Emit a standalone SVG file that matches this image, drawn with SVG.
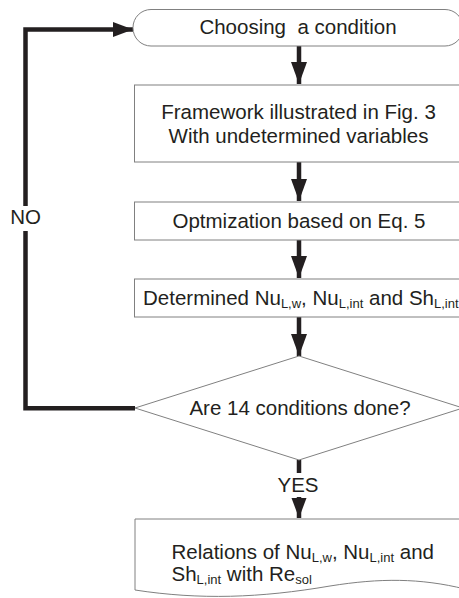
<svg xmlns="http://www.w3.org/2000/svg" width="459" height="598" viewBox="0 0 459 598">
<defs>
<style>
.box{fill:#fff;stroke:#808080;stroke-width:1}
.t{font-family:"Liberation Sans",Arial,sans-serif;font-size:20.5px;fill:#231f20}
.s{font-size:13px}
.c{fill:none;stroke:#231f20;stroke-width:4.5}
</style>
<marker id="ah" markerUnits="userSpaceOnUse" markerWidth="24" markerHeight="18" refX="22" refY="8" orient="auto">
<path d="M0,0 L22,8 L0,16 Z" fill="#231f20"/>
</marker>
<marker id="ah2" markerUnits="userSpaceOnUse" markerWidth="22" markerHeight="16" refX="20" refY="7.5" orient="auto">
<path d="M0,0 L20,7.5 L0,15 Z" fill="#231f20"/>
</marker>
</defs>
<rect width="459" height="598" fill="#fff"/>
<g id="connectors">
<path class="c" d="M299,46 V84" marker-end="url(#ah)"/>
<path class="c" d="M299,162 V201" marker-end="url(#ah)"/>
<path class="c" d="M299,240 V278" marker-end="url(#ah)"/>
<path class="c" d="M299,317 V356" marker-end="url(#ah)"/>
<path class="c" d="M299,460 V473"/>
<path class="c" d="M299,497 V518" marker-end="url(#ah2)"/>
<path class="c" d="M135,408.3 H25.5 V29.5 H133" marker-end="url(#ah2)"/>
<rect x="8" y="206" width="36" height="25" fill="#fff"/>
<text class="t" x="25.5" y="224" text-anchor="middle" font-size="19">NO</text>
<text class="t" x="298" y="492" text-anchor="middle" font-size="19">YES</text>
</g>
<g id="start">
<rect class="box" x="133" y="9.5" width="330" height="36.5" rx="18" ry="18"/>
<text class="t" x="298" y="34" text-anchor="middle" xml:space="preserve">Choosing  a condition</text>
</g>
<g id="framework">
<rect class="box" x="134.5" y="85" width="330" height="77"/>
<text class="t" x="298.5" y="119" text-anchor="middle">Framework illustrated in Fig. 3</text>
<text class="t" x="298.5" y="143" text-anchor="middle">With undetermined variables</text>
</g>
<g id="optimization">
<rect class="box" x="134.5" y="202" width="330" height="38"/>
<text class="t" x="299" y="228" text-anchor="middle">Optmization based on Eq. 5</text>
</g>
<g id="determined">
<rect class="box" x="134.5" y="279" width="330" height="38"/>
<text class="t" x="143" y="305">Determined Nu<tspan class="s" dy="3">L,w</tspan><tspan dy="-3">, Nu</tspan><tspan class="s" dy="3">L,int</tspan><tspan dy="-3"> and Sh</tspan><tspan class="s" dy="3">L,int</tspan></text>
</g>
<g id="decision">
<path class="box" d="M299,356 L463,408 L299,460 L135,408 Z"/>
<text class="t" x="300" y="415" text-anchor="middle">Are 14 conditions done?</text>
</g>
<g id="result">
<path class="box" d="M135,519 H465 V589 C420,578 380,578 330,586 C260,598 200,600 135,590 Z"/>
<text class="t" x="171.5" y="559">Relations of Nu<tspan class="s" dy="2.5">L,w</tspan><tspan dy="-2.5">, Nu</tspan><tspan class="s" dy="2.5">L,int</tspan><tspan dy="-2.5"> and</tspan></text>
<text class="t" x="171.5" y="581">Sh<tspan class="s" dy="2.5">L,int</tspan><tspan dy="-2.5"> with Re</tspan><tspan class="s" dy="2.5">sol</tspan></text>
</g>
</svg>
